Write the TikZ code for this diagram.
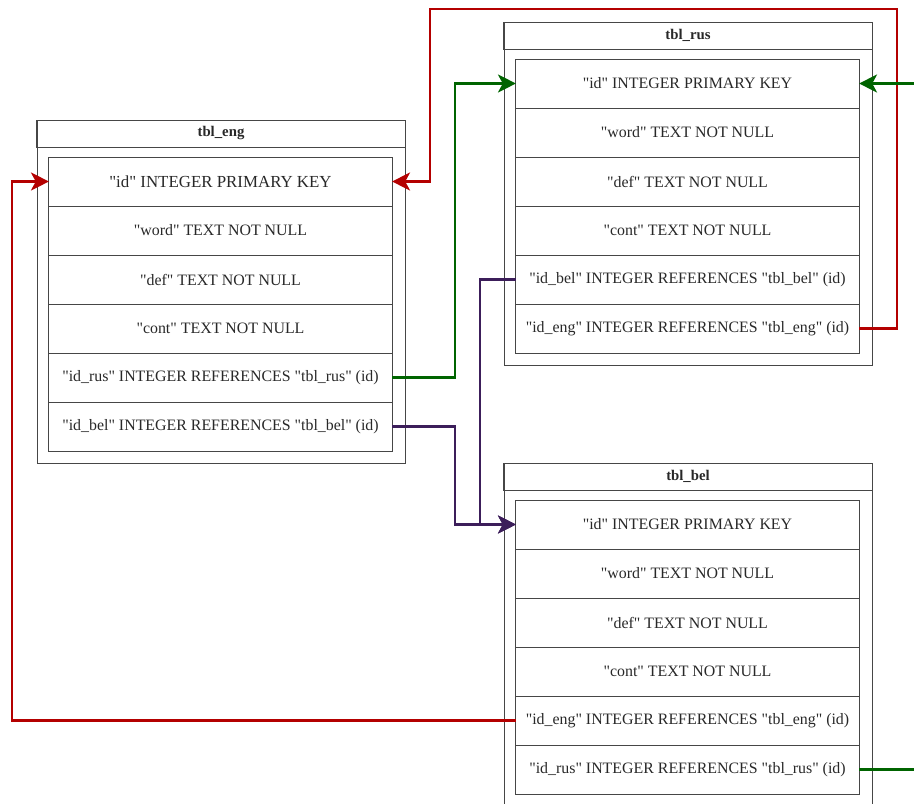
\documentclass[tikz,border=0pt]{standalone}
\usepackage{fontspec}
\setmainfont{Liberation Serif}
\usetikzlibrary{positioning}
\usetikzlibrary{arrows.meta}

\definecolor{linegray}{RGB}{70,70,70}
\definecolor{textgray}{RGB}{40,40,40}
\definecolor{fkred}{RGB}{180,0,0}
\definecolor{fkgreen}{RGB}{0,100,0}
\definecolor{fkpurple}{RGB}{60,30,90}

\newcommand{\q}[1]{\textquotedbl#1\textquotedbl}

\begin{document}
\begin{tikzpicture}[x=0.025cm, y=-0.025cm, node distance=0pt]

    \tikzset{
        row/.style={
            draw=linegray,
            line width=0.7pt,
            minimum width=8.575cm,
            minimum height=1.225cm,
            inner sep=0pt,
            outer sep=0pt,
            text=textgray,
            font=\fontsize{11.3}{13}\selectfont
        },
        frame/.style={
            draw=linegray,
            line width=0.7pt
        },
        title/.style={
            draw=linegray,
            line width=0.7pt,
            minimum width=9.2cm,
            minimum height=0.675cm,
            inner sep=0pt,
            outer sep=0pt,
            text=textgray,
            font=\bfseries\fontsize{10.5}{12}\selectfont
        },
        link/.style={
            line width=1.6pt,
            -{Stealth[length=0.45cm, width=0.45cm, inset=0.12cm]}
        }
    }

    \clip (0,0) rectangle (914,803);

    % tbl_eng
    \draw[frame] (37,120) rectangle (405,463);
    \node[title] (eng) at (221,133.5) {tbl\_eng};
    \node[row, font=\fontsize{12}{14}\selectfont] (eng-id) at (220.5,181.5) {\q{id} INTEGER PRIMARY KEY};
    \node[row, below=of eng-id] (eng-word) {\q{word} TEXT NOT NULL};
    \node[row, below=of eng-word] (eng-def) {\q{def} TEXT NOT NULL};
    \node[row, below=of eng-def] (eng-cont) {\q{cont} TEXT NOT NULL};
    \node[row, below=of eng-cont] (eng-rus) {\q{id\_rus} INTEGER REFERENCES \q{tbl\_rus} (id)};
    \node[row, below=of eng-rus] (eng-bel) {\q{id\_bel} INTEGER REFERENCES \q{tbl\_bel} (id)};

    % tbl_rus
    \draw[frame] (504,22) rectangle (872,365);
    \node[title] (rus) at (688,35.5) {tbl\_rus};
    \node[row] (rus-id) at (687.5,83.5) {\q{id} INTEGER PRIMARY KEY};
    \node[row, below=of rus-id] (rus-word) {\q{word} TEXT NOT NULL};
    \node[row, below=of rus-word] (rus-def) {\q{def} TEXT NOT NULL};
    \node[row, below=of rus-def] (rus-cont) {\q{cont} TEXT NOT NULL};
    \node[row, below=of rus-cont] (rus-bel) {\q{id\_bel} INTEGER REFERENCES \q{tbl\_bel} (id)};
    \node[row, below=of rus-bel] (rus-eng) {\q{id\_eng} INTEGER REFERENCES \q{tbl\_eng} (id)};

    % tbl_bel
    \draw[frame] (504,463) rectangle (872,806);
    \node[title] (bel) at (688,476.5) {tbl\_bel};
    \node[row] (bel-id) at (687.5,524.5) {\q{id} INTEGER PRIMARY KEY};
    \node[row, below=of bel-id] (bel-word) {\q{word} TEXT NOT NULL};
    \node[row, below=of bel-word] (bel-def) {\q{def} TEXT NOT NULL};
    \node[row, below=of bel-def] (bel-cont) {\q{cont} TEXT NOT NULL};
    \node[row, below=of bel-cont] (bel-eng) {\q{id\_eng} INTEGER REFERENCES \q{tbl\_eng} (id)};
    \node[row, below=of bel-eng] (bel-rus) {\q{id\_rus} INTEGER REFERENCES \q{tbl\_rus} (id)};

    % references
    \draw[link, fkred] (rus-eng.east) -| (897,9) -- (430,9) |- (eng-id.east);
    \draw[link, fkred] (bel-eng.west) -- ++(-504,0) |- (eng-id.west);
    \draw[link, fkgreen] (eng-rus.east) -- ++(63,0) |- (rus-id.west);
    \draw[link, fkgreen] (bel-rus.east) -- ++(80,0) |- (rus-id.east);
    \draw[link, fkpurple] (eng-bel.east) -- ++(63,0) |- (bel-id.west);
    \draw[link, fkpurple] (rus-bel.west) -- ++(-36,0) |- (bel-id.west);

\end{tikzpicture}
\end{document}
